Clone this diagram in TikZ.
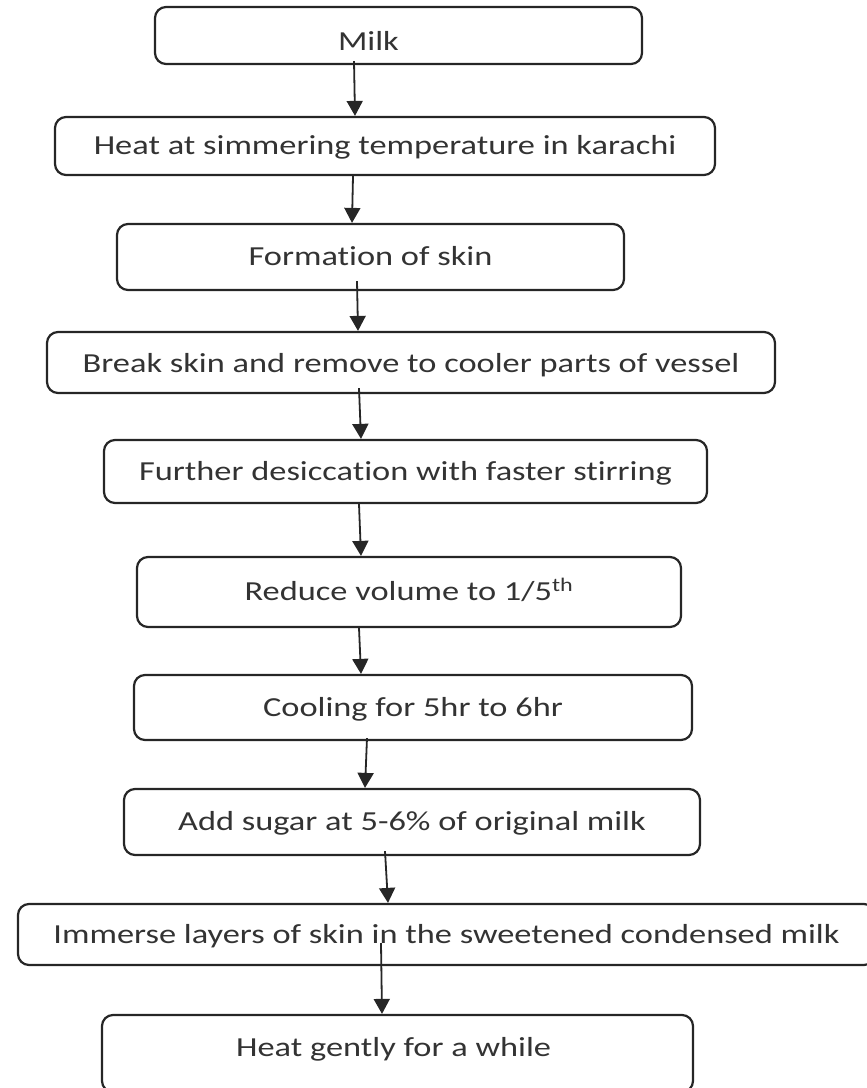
\documentclass[tikz,border=0pt]{standalone}
\usepackage{fontspec}
\setmainfont{Carlito}[Ligatures=NoCommon]
\usepackage{graphicx}
\usepackage{tikz}
\usetikzlibrary{arrows.meta}

\newcommand{\stxt}[1]{\scalebox{1.25}[1]{#1}}

\begin{document}
\begin{tikzpicture}[x=1pt,y=-1pt,
  stepbox/.style={draw=black!85, line width=2.2pt, rounded corners=11pt, inner sep=0pt,
    font=\fontsize{27.5}{33}\selectfont, text=black!80, text depth=2pt},
  flow/.style={-{Triangle[width=16pt,length=15pt]}, line width=1.8pt, draw=black!85}]
\useasboundingbox (0,0) rectangle (867,1088);
\foreach \nm/\cx/\cy/\bw/\bh/\bt/\txt in {
  milk/398.5/35.5/487/57/32.7/{Milk\hspace*{48pt}},
  heat/385/146/660/58/19.7/{Heat at simmering temperature in karachi},
  form/370.5/257/507/66/19.7/{Formation of skin},
  brk/411/362.5/728/61/22/{Break skin and remove to cooler parts of vessel},
  furth/405.5/471.5/603/63/19.7/{Further desiccation with faster stirring},
  reduce/409/592/544/70/19.7/{Reduce volume to 1/5\textsuperscript{th}},
  cool/413/707.5/558/65/19.7/{Cooling for 5hr to 6hr},
  sugar/412/822/576/66/19.7/{Add sugar at 5-6\% of original milk},
  immerse/446.5/934.5/857/61/19.7/{Immerse layers of skin in the sweetened condensed milk},
  gently/397.5/1053.5/591/77/8.7/{Heat gently for a while}
} {
  \node[stepbox, minimum width=\bw pt, minimum height=\bh pt, text height=\bt pt] (\nm) at (\cx,\cy) {\stxt{\txt}};
}
% arrows: from/to/start shift x/start shift y/end shift x
\foreach \src/\dst/\sx/\sy/\ex in {
  milk/heat/-44.5/4/-30,
  heat/form/-32/0/-18.5,
  form/brk/-13.5/10/-53,
  brk/furth/-52/6/-44.5,
  furth/reduce/-46.5/0/-48,
  reduce/cool/-50/0/-52,
  cool/sugar/-46/3/-47,
  sugar/immerse/-27/5/-58.5,
  immerse/gently/-65.5/23/-15.5
} {
  \draw[flow] ([xshift=\sx pt,yshift=\sy pt]\src.south) -- ([xshift=\ex pt]\dst.north);
}
\end{tikzpicture}
\end{document}
